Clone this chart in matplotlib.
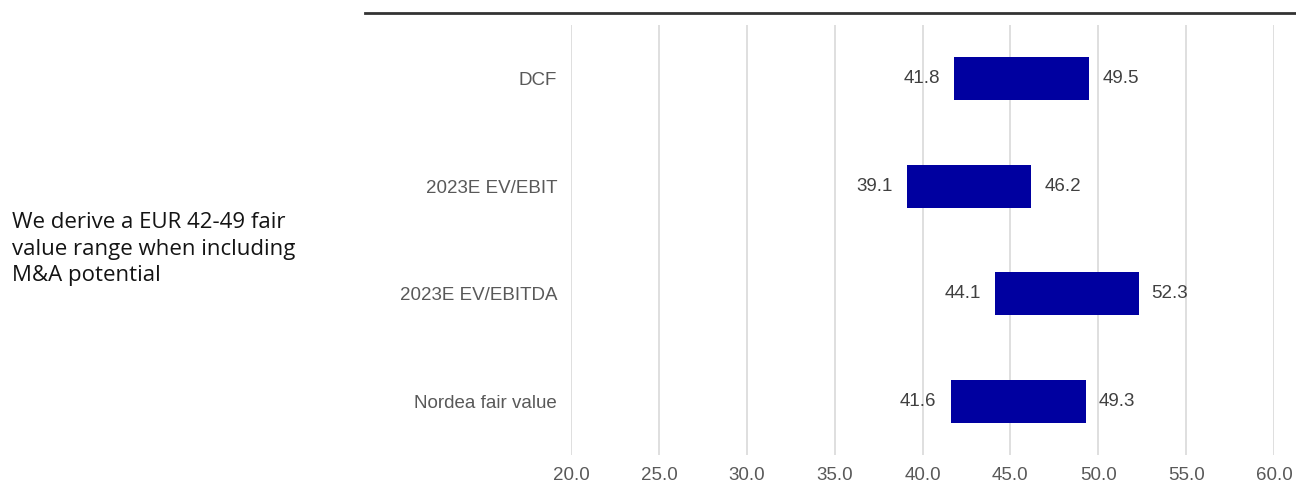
import matplotlib
matplotlib.use("Agg")
import matplotlib.pyplot as plt
from matplotlib.lines import Line2D

categories = ["DCF", "2023E EV/EBIT", "2023E EV/EBITDA", "Nordea fair value"]
low_values = [41.8, 39.1, 44.1, 41.6]
high_values = [49.5, 46.2, 52.3, 49.3]
x_ticks = [20.0, 25.0, 30.0, 35.0, 40.0, 45.0, 50.0, 55.0, 60.0]
side_note = "We derive a EUR 42-49 fair\nvalue range when including\nM&A potential"

W, H = 1296, 487
fig = plt.figure(figsize=(W / 100, H / 100), dpi=100)

# axes: x 571 -> 1274 px maps 20 -> 60; y 25 -> 455 px
ax = fig.add_axes([571 / W, 1 - 455 / H, (1274 - 571) / W, (455 - 25) / H])
ax.set_xlim(20, 60)
ax.set_ylim(len(categories) - 0.5, -0.5)

bar_color = "#0000A0"
ypos = list(range(len(categories)))
widths = [h - l for l, h in zip(low_values, high_values)]
ax.barh(ypos, widths, left=low_values, height=0.4, color=bar_color, zorder=3)

lab_fs = 13.5
for y, lo, hi in zip(ypos, low_values, high_values):
    ax.annotate(f"{lo:.1f}", xy=(lo, y), xytext=(-14, 0), textcoords="offset pixels",
                ha="right", va="center", fontsize=lab_fs, color="#404040",
                family="Liberation Sans", zorder=4)
    ax.annotate(f"{hi:.1f}", xy=(hi, y), xytext=(13, 0), textcoords="offset pixels",
                ha="left", va="center", fontsize=lab_fs, color="#404040",
                family="Liberation Sans", zorder=4)

ax.set_xticks(x_ticks)
ax.set_xticklabels([f"{t:.1f}" for t in x_ticks], family="Liberation Sans",
                   fontsize=lab_fs, color="#595959")
ax.set_yticks(ypos)
ax.set_yticklabels(categories, family="Liberation Sans", fontsize=lab_fs, color="#595959")
ax.tick_params(axis="both", length=0)
ax.tick_params(axis="x", pad=9)
ax.tick_params(axis="y", pad=10)
ax.grid(axis="x", color="#D9D9D9", linewidth=1.2, zorder=0)
ax.set_axisbelow(True)
for s in ax.spines.values():
    s.set_visible(False)

# top rule
fig.add_artist(Line2D([365 / W, 1.0], [1 - 12.5 / H, 1 - 12.5 / H],
                      color="#333333", linewidth=2, transform=fig.transFigure))

fig.text(12 / W, 1 - 249 / H, side_note, ha="left", va="center",
         fontsize=16, color="#141414", family="Open Sans", linespacing=1.34)

fig.savefig("out.png", dpi=100)
